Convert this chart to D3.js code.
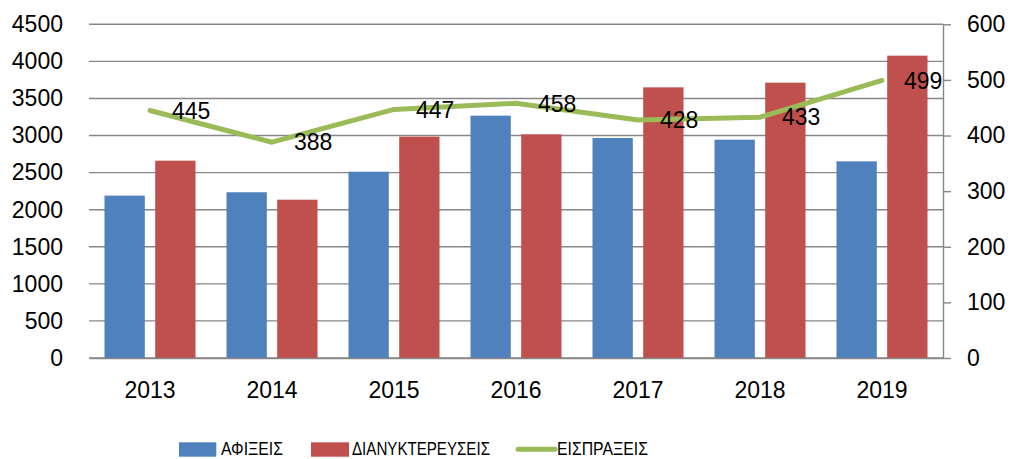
<!DOCTYPE html>
<html>
<head>
<meta charset="utf-8">
<script src="https://cdn.jsdelivr.net/npm/d3@7"></script>
<style>
  body { margin: 0; background: #fff; }
  text { font-family: "Liberation Sans", Arial, sans-serif; fill: #000; }
</style>
</head>
<body>
<svg id="chart" width="1011" height="459"></svg>
<script>
// data
const years = ["2013", "2014", "2015", "2016", "2017", "2018", "2019"];
const arrivals = [2190, 2235, 2512, 3268, 2967, 2944, 2652];      // ΑΦΙΞΕΙΣ
const overnights = [2661, 2135, 2985, 3016, 3650, 3713, 4077];    // ΔΙΑΝΥΚΤΕΡΕΥΣΕΙΣ
const receipts = [445, 388, 447, 458, 428, 433, 499];              // ΕΙΣΠΡΑΞΕΙΣ
const leftTicks = [0, 500, 1000, 1500, 2000, 2500, 3000, 3500, 4000, 4500];
const rightTicks = [0, 100, 200, 300, 400, 500, 600];
const seriesNames = ["ΑΦΙΞΕΙΣ", "ΔΙΑΝΥΚΤΕΡΕΥΣΕΙΣ", "ΕΙΣΠΡΑΞΕΙΣ"];

const colors = {blue: "#4F81BD", red: "#C0504D", green: "#9BBB59", grid: "#878787"};

const margin = {top: 24.3, right: 68, bottom: 101, left: 89};
const W = 1011, H = 459;
const fs = 23;
const svg = d3.select("#chart");

const x = d3.scaleBand()
    .domain(years)
    .range([margin.left, W - margin.right])
    .paddingInner(0).paddingOuter(0);

const bw = x.bandwidth();
const x1 = d3.scaleBand()
    .domain(["a", "d"])
    .range([bw * 0.127, bw * 0.873])
    .paddingInner(0.205);

const yL = d3.scaleLinear().domain([0, 4500]).range([H - margin.bottom, margin.top]);
const yR = d3.scaleLinear().domain([0, 600]).range([H - margin.bottom, margin.top]);

// gridlines
svg.append("g")
  .selectAll("line")
  .data(leftTicks)
  .join("line")
    .attr("x1", margin.left)
    .attr("x2", W - margin.right)
    .attr("y1", d => yL(d))
    .attr("y2", d => yL(d))
    .attr("stroke", colors.grid)
    .attr("stroke-width", 1.4);

// bars
const rows = years.map((yr, i) => ({yr, a: arrivals[i], d: overnights[i]}));
const grp = svg.append("g").selectAll("g").data(rows).join("g")
    .attr("transform", d => `translate(${x(d.yr)},0)`);
grp.append("rect")
    .attr("x", x1("a")).attr("width", x1.bandwidth())
    .attr("y", d => yL(d.a)).attr("height", d => yL(0) - yL(d.a))
    .attr("fill", colors.blue);
grp.append("rect")
    .attr("x", x1("d")).attr("width", x1.bandwidth())
    .attr("y", d => yL(d.d)).attr("height", d => yL(0) - yL(d.d))
    .attr("fill", colors.red);

// left axis
const axL = svg.append("g")
    .attr("transform", `translate(${margin.left},0)`)
    .call(d3.axisLeft(yL).tickValues(leftTicks).tickFormat(d3.format("d")).tickSize(0).tickPadding(26));
axL.select(".domain").remove();
axL.selectAll("text").attr("font-size", fs).attr("font-family", "Liberation Sans");

// right axis
const axR = svg.append("g")
    .attr("transform", `translate(${W - margin.right},0)`)
    .call(d3.axisRight(yR).tickValues(rightTicks).tickFormat(d3.format("d")).tickSize(8).tickPadding(16).tickSizeOuter(0));
axR.selectAll("path, line").attr("stroke", colors.grid).attr("stroke-width", 1.4);
axR.selectAll("text").attr("font-size", fs).attr("font-family", "Liberation Sans");

// bottom axis
const axB = svg.append("g")
    .attr("transform", `translate(0,${H - margin.bottom})`)
    .call(d3.axisBottom(x).tickSize(0).tickPadding(24).tickSizeOuter(0));
axB.select(".domain").attr("stroke", colors.grid).attr("stroke-width", 1.4);
axB.selectAll("text").attr("font-size", fs).attr("font-family", "Liberation Sans");

// line
const pts = years.map((yr, i) => ({yr, v: receipts[i]}));
const line = d3.line()
    .x(d => x(d.yr) + bw / 2)
    .y(d => yR(d.v));
svg.append("path")
    .datum(pts)
    .attr("d", line)
    .attr("fill", "none")
    .attr("stroke", colors.green)
    .attr("stroke-width", 5)
    .attr("stroke-linejoin", "round")
    .attr("stroke-linecap", "round");

svg.append("g").selectAll("text").data(pts).join("text")
    .attr("x", d => x(d.yr) + bw / 2 + 22)
    .attr("y", d => yR(d.v))
    .attr("dy", "0.36em")
    .attr("font-size", fs)
    .text(d => d.v);

// legend
const lg = svg.append("g");
const ly = 455; // text baseline
lg.append("rect").attr("x", 179).attr("y", 442.3).attr("width", 37.3).attr("height", 14.4).attr("fill", colors.blue);
lg.append("text").attr("x", 221).attr("y", ly).attr("font-size", 19)
    .attr("textLength", 62).attr("lengthAdjust", "spacingAndGlyphs").text(seriesNames[0]);
lg.append("rect").attr("x", 311).attr("y", 442.3).attr("width", 38).attr("height", 14.4).attr("fill", colors.red);
lg.append("text").attr("x", 352).attr("y", ly).attr("font-size", 19)
    .attr("textLength", 138).attr("lengthAdjust", "spacingAndGlyphs").text(seriesNames[1]);
lg.append("line").attr("x1", 518).attr("x2", 555).attr("y1", 449.3).attr("y2", 449.3)
    .attr("stroke", colors.green).attr("stroke-width", 5).attr("stroke-linecap", "round");
lg.append("text").attr("x", 557).attr("y", ly).attr("font-size", 19)
    .attr("textLength", 91).attr("lengthAdjust", "spacingAndGlyphs").text(seriesNames[2]);
</script>
</body>
</html>
